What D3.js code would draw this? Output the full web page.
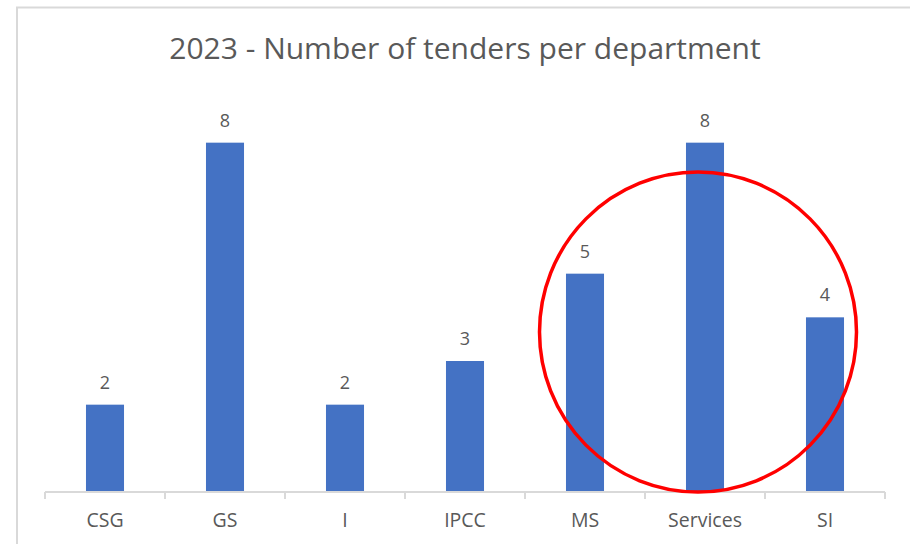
<!DOCTYPE html>
<html>
<head>
<meta charset="utf-8">
<script src="https://cdn.jsdelivr.net/npm/d3@7"></script>
<style>
  body { margin: 0; background: #fff; }
  svg { display: block; font-family: "Open Sans", sans-serif; }
</style>
</head>
<body>
<svg></svg>
<script>
// Data
const departments = ["CSG", "GS", "I", "IPCC", "MS", "Services", "SI"];
const tenders = [2, 8, 2, 3, 5, 8, 4];
const highlighted = ["MS", "Services", "SI"];

const w = 910;
const h = 544;

// Scales
const xScale = d3.scaleBand()
                 .domain(departments)
                 .range([45, 885])
                 .paddingInner(0.683)
                 .paddingOuter(0.3415);

const yScale = d3.scaleLinear()
                 .domain([0, 9])
                 .range([492, 99]);

const chart = d3.select("svg")
                .attr("width", w)
                .attr("height", h);

// Chart border (runs off the right and bottom)
chart.append("rect")
     .attr("x", 17)
     .attr("y", 7.5)
     .attr("width", w + 20)
     .attr("height", h + 20)
     .attr("fill", "#fff")
     .attr("stroke", "#d9d9d9")
     .attr("stroke-width", 2);

// Title
chart.append("text")
     .attr("x", 465)
     .attr("y", 59)
     .attr("text-anchor", "middle")
     .attr("fill", "#595959")
     .style("font-size", "30px")
     .text("2023 - Number of tenders per department");

// Bars
chart.selectAll(".bar")
     .data(departments)
     .enter()
     .append("rect")
     .classed("bar", true)
     .attr("x", (d) => xScale(d))
     .attr("y", (d, i) => yScale(tenders[i]))
     .attr("width", xScale.bandwidth())
     .attr("height", (d, i) => yScale(0) - yScale(tenders[i]))
     .attr("fill", "#4472c4");

// Value labels
chart.selectAll(".value")
     .data(departments)
     .enter()
     .append("text")
     .classed("value", true)
     .attr("x", (d) => xScale(d) + xScale.bandwidth() / 2)
     .attr("y", (d, i) => yScale(tenders[i]) - 16)
     .attr("text-anchor", "middle")
     .attr("fill", "#595959")
     .style("font-size", "18px")
     .text((d, i) => tenders[i]);

// X axis with ticks between categories
const xAxis = d3.axisBottom(xScale).tickSize(0).tickPadding(21);
const gx = chart.append("g")
                .attr("transform", "translate(0, 492)")
                .call(xAxis);
gx.select(".domain").remove();
gx.selectAll("text")
  .attr("fill", "#595959")
  .style("font-size", "19.5px")
  .style("font-family", "Open Sans, sans-serif");

const step = xScale.step();
const edges = d3.range(departments.length + 1).map((i) => 45 + i * step);
gx.append("line")
  .attr("x1", 45)
  .attr("x2", 885)
  .attr("stroke", "#d9d9d9")
  .attr("stroke-width", 2);
gx.selectAll(".edge")
  .data(edges)
  .enter()
  .append("line")
  .classed("edge", true)
  .attr("x1", (d) => d)
  .attr("x2", (d) => d)
  .attr("y1", 0)
  .attr("y2", 7)
  .attr("stroke", "#d9d9d9")
  .attr("stroke-width", 2);

// Red highlight ellipse around the last three departments
const first = xScale(highlighted[0]);
const last = xScale(highlighted[highlighted.length - 1]) + xScale.bandwidth();
chart.append("ellipse")
     .attr("cx", (first + last) / 2 - 7)
     .attr("cy", 332)
     .attr("rx", 158.5)
     .attr("ry", 160)
     .attr("fill", "none")
     .attr("stroke", "#ff0000")
     .attr("stroke-width", 3.5);
</script>
</body>
</html>
